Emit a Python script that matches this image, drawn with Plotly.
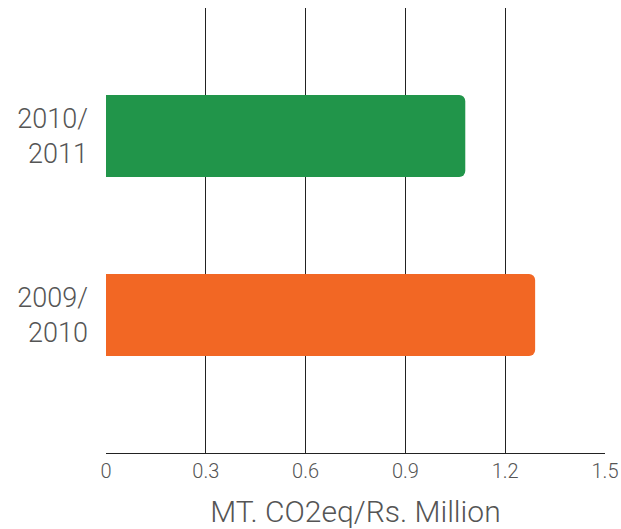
import plotly.graph_objects as go

categories = ["2009/<br>2010", "2010/<br>2011"]
values = [1.29, 1.08]
colors = ["#F26724", "#21954A"]
x_ticks = [0, 0.3, 0.6, 0.9, 1.2, 1.5]
x_tick_labels = ["0", "0.3", "0.6", "0.9", "1.2", "1.5"]
x_title = "MT. CO2eq/Rs. Million"

fig = go.Figure(go.Bar(
    y=categories, x=values, orientation="h",
    marker=dict(color=colors, line=dict(width=0)),
    width=0.458,
))

fig.update_layout(
    width=621, height=529,
    margin=dict(l=106, r=16, t=8, b=76),
    paper_bgcolor="white", plot_bgcolor="white",
    showlegend=False,
    barcornerradius=6,
    font=dict(family="Roboto, Liberation Sans, sans-serif", color="#555555", weight=300),
    xaxis=dict(
        range=[0, 1.5], tickvals=x_ticks, ticktext=x_tick_labels,
        showgrid=True, gridcolor="#222222", gridwidth=1,
        showline=True, linecolor="#222222", linewidth=1,
        zeroline=False, ticks="", automargin=False,
        tickfont=dict(size=20, color="#555555"),
        title=dict(text=x_title, font=dict(size=30, color="#555555"), standoff=24),
    ),
    yaxis=dict(
        type="category", range=[-0.77, 1.715],
        showgrid=False, showline=False, zeroline=False, ticks="",
        automargin=False,
        tickfont=dict(size=27, color="#555555"),
        ticklabelstandoff=17,
    ),
)

fig.write_html("out.html")
